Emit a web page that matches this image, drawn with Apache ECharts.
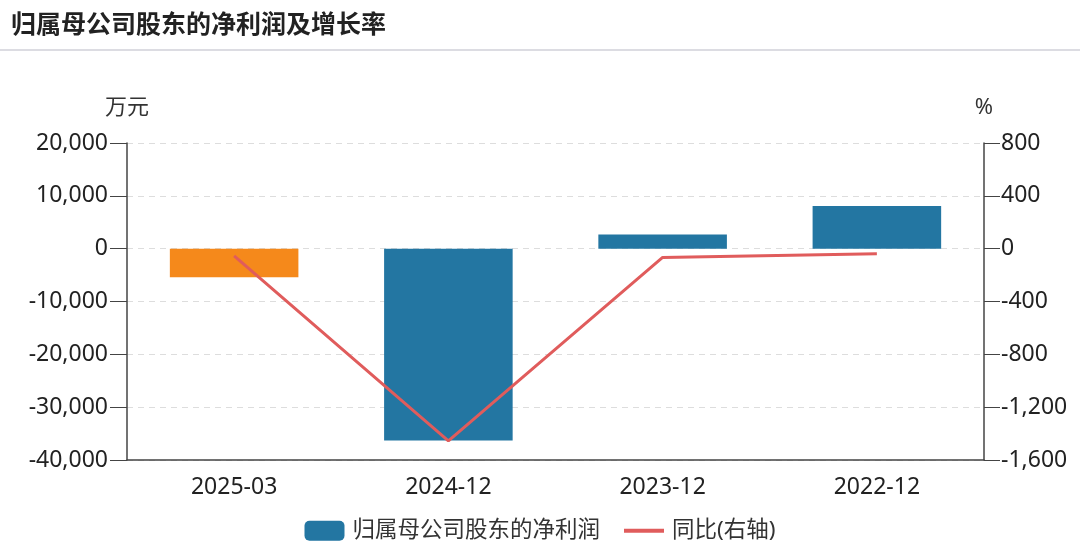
<!DOCTYPE html>
<html><head><meta charset="utf-8">
<script src="https://cdn.jsdelivr.net/npm/echarts@6/dist/echarts.min.js"></script>
<style>html,body{margin:0;padding:0;background:#fff;}#c{width:1080px;height:553px;}</style>
</head><body><div id="c"></div>
<script>
const categories = ['2025-03', '2024-12', '2023-12', '2022-12'];
const profitValues = [-5430, -36300, 2700, 8080];
const yoyValues = [-55, -1455, -66, -38];
const leftTicks = {min: -40000, max: 20000, interval: 10000};
const rightTicks = {min: -1600, max: 800, interval: 400};
const seriesNames = ['归属母公司股东的净利润', '同比(右轴)'];
const titleText = '归属母公司股东的净利润及增长率';

const FONT = '"Noto Sans", "Noto Sans CJK SC", sans-serif';
const chart = echarts.init(document.getElementById('c'));
chart.setOption({
  animation: false,
  textStyle: {fontFamily: FONT},
  title: {text: titleText, left: 6, top: 8, textStyle: {fontSize: 25, fontWeight: 'bold', color: '#222', fontFamily: FONT}},
  graphic: [{type: 'line', shape: {x1: 0, y1: 50, x2: 1080, y2: 50}, style: {stroke: '#d0d0d8', lineWidth: 1.5}}],
  legend: {
    bottom: 6, left: 'center', itemGap: 24, itemWidth: 40, itemHeight: 20, symbolKeepAspect: true,
    textStyle: {fontSize: 22.5, color: '#333', fontFamily: FONT, padding: [0, 0, 0, 3]},
    data: [{name: seriesNames[0], icon: 'roundRect'}, {name: seriesNames[1], icon: 'path://M0,0L40,0L40,4L0,4Z'}]
  },
  grid: {left: 127, right: 96, top: 143, bottom: 93, containLabel: false},
  xAxis: {
    type: 'category', data: categories,
    axisLine: {onZero: false, lineStyle: {color: '#444', width: 1.5}},
    axisTick: {alignWithLabel: true, length: 12, lineStyle: {color: '#444'}},
    axisLabel: {fontSize: 23, color: '#222', margin: 16}
  },
  yAxis: [{
    type: 'value', min: leftTicks.min, max: leftTicks.max, interval: leftTicks.interval,
    name: '万元', nameLocation: 'end', nameGap: 24, nameTextStyle: {fontSize: 22, color: '#333', align: 'center'},
    axisLine: {show: true, lineStyle: {color: '#444', width: 1.5}},
    axisTick: {show: true, length: 17, lineStyle: {color: '#444'}},
    axisLabel: {fontSize: 23, color: '#222', margin: 19, formatter: v => v.toLocaleString('en-US')},
    splitLine: {lineStyle: {type: [6, 5], color: '#dddddd'}}
  }, {
    type: 'value', min: rightTicks.min, max: rightTicks.max, interval: rightTicks.interval,
    name: '%', nameLocation: 'end', nameGap: 24, nameTextStyle: {fontSize: 22, color: '#333', align: 'center'},
    axisLine: {show: true, lineStyle: {color: '#444', width: 1.5}},
    axisTick: {show: true, length: 16, lineStyle: {color: '#444'}},
    axisLabel: {fontSize: 23, color: '#222', margin: 17, formatter: v => v.toLocaleString('en-US')},
    splitLine: {show: false}
  }],
  series: [{
    name: seriesNames[0], type: 'bar', barWidth: '60%',
    itemStyle: {color: '#2376a2'},
    data: profitValues.map((v, i) => i === 0 ? {value: v, itemStyle: {color: '#f5891b'}} : v)
  }, {
    name: seriesNames[1], type: 'line', yAxisIndex: 1, symbol: 'none',
    lineStyle: {color: '#e05c5c', width: 3}, itemStyle: {color: '#e05c5c'},
    data: yoyValues
  }]
});
</script></body></html>
